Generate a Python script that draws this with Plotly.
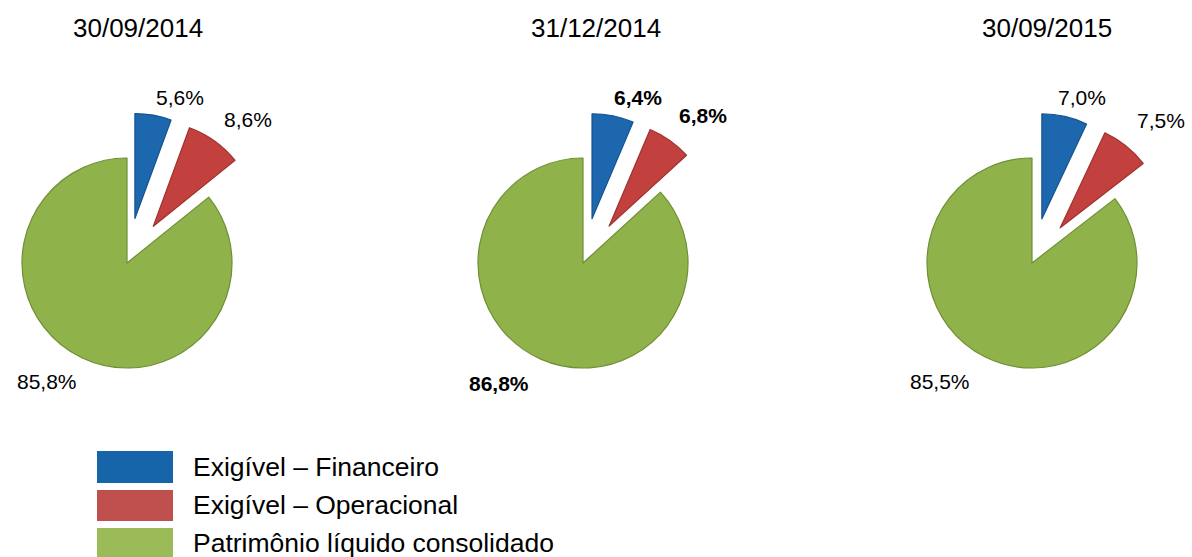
import math
import plotly.graph_objects as go

# ---- data ----
dates = ["30/09/2014", "31/12/2014", "30/09/2015"]
categories = ["Exigível – Financeiro", "Exigível – Operacional", "Patrimônio líquido consolidado"]
financeiro = [5.6, 6.4, 7.0]
operacional = [8.6, 6.8, 7.5]
patrimonio = [85.8, 86.8, 85.5]

# ---- styling / layout ----
W, H = 1192, 557
FONT = "Liberation Sans, Arial"
slice_colors = ["#1C67AD", "#C2413E", "#8FB24B"]
rim_colors = ["#15548F", "#9E3231", "#6F8F35"]
legend_colors = ["#1565A8", "#C0504D", "#9BBB59"]
centers = [(127, 263), (583, 263), (1032, 263)]
R = 105
PULL = 0.43            # exploded slices (first two), fraction of radius
bold_labels = [False, True, False]
title_x = [138, 596, 1047]
label_pos = [
    [(180, 97), (248, 119), (47, 382)],
    [(638, 97), (703, 116), (499, 383)],
    [(1082, 97), (1161, 120), (940, 381)],
]


def px_domain(cx, cy, r):
    return dict(x=[(cx - r) / W, (cx + r) / W], y=[1 - (cy + r) / H, 1 - (cy - r) / H])


def fmt(v):
    return f"{v:.1f}".replace(".", ",") + "%"


fig = go.Figure()
annotations = []

for i in range(len(dates)):
    vals = [financeiro[i], operacional[i], patrimonio[i]]
    total = sum(vals)
    cum = 0.0
    for j, v in enumerate(vals):
        mid = 2 * math.pi * (cum + v / 2) / total   # clockwise from 12 o'clock
        cum += v
        cx, cy = centers[i]
        if j < 2:
            cx += PULL * R * math.sin(mid)
            cy -= PULL * R * math.cos(mid)
        colors = ["rgba(0,0,0,0)"] * 3
        colors[j] = slice_colors[j]
        widths = [0, 0, 0]
        widths[j] = 1.2
        fig.add_trace(go.Pie(
            values=vals,
            labels=categories,
            sort=False,
            direction="clockwise",
            rotation=0,
            textinfo="none",
            hoverinfo="skip",
            showlegend=False,
            marker=dict(colors=colors,
                        line=dict(color=[rim_colors[k] if widths[k] else "rgba(0,0,0,0)" for k in range(3)],
                                  width=widths)),
            domain=px_domain(cx, cy, R),
        ))

    # value labels
    for j, v in enumerate(vals):
        x, y = label_pos[i][j]
        txt = fmt(v)
        if bold_labels[i]:
            txt = f"<b>{txt}</b>"
        annotations.append(dict(
            x=x / W, y=1 - y / H, xref="paper", yref="paper", text=txt, showarrow=False,
            xanchor="center", yanchor="middle",
            font=dict(family=FONT, size=21, color="#000000"),
        ))

    # date header
    annotations.append(dict(
        x=title_x[i] / W, y=1 - 28 / H, xref="paper", yref="paper", text=dates[i], showarrow=False,
        xanchor="center", yanchor="middle",
        font=dict(family=FONT, size=26, color="#000000"),
    ))

# legend drawn as swatches + labels
shapes = []
swatch_rows = [(451, 483), (490, 521), (528, 559)]
text_rows = [467, 505, 543]
for k, (y0, y1) in enumerate(swatch_rows):
    shapes.append(dict(type="rect", xref="paper", yref="paper",
                       x0=97 / W, x1=173 / W, y0=1 - y1 / H, y1=1 - y0 / H,
                       fillcolor=legend_colors[k], line=dict(width=0)))
    annotations.append(dict(
        x=191 / W, y=1 - text_rows[k] / H, xref="paper", yref="paper", text=categories[k],
        showarrow=False, xanchor="left", yanchor="middle",
        font=dict(family=FONT, size=26.5, color="#000000"),
    ))

fig.update_layout(
    width=W, height=H,
    margin=dict(l=0, r=0, t=0, b=0),
    paper_bgcolor="#FFFFFF",
    plot_bgcolor="#FFFFFF",
    annotations=annotations,
    shapes=shapes,
)

fig.write_html("out.html")
